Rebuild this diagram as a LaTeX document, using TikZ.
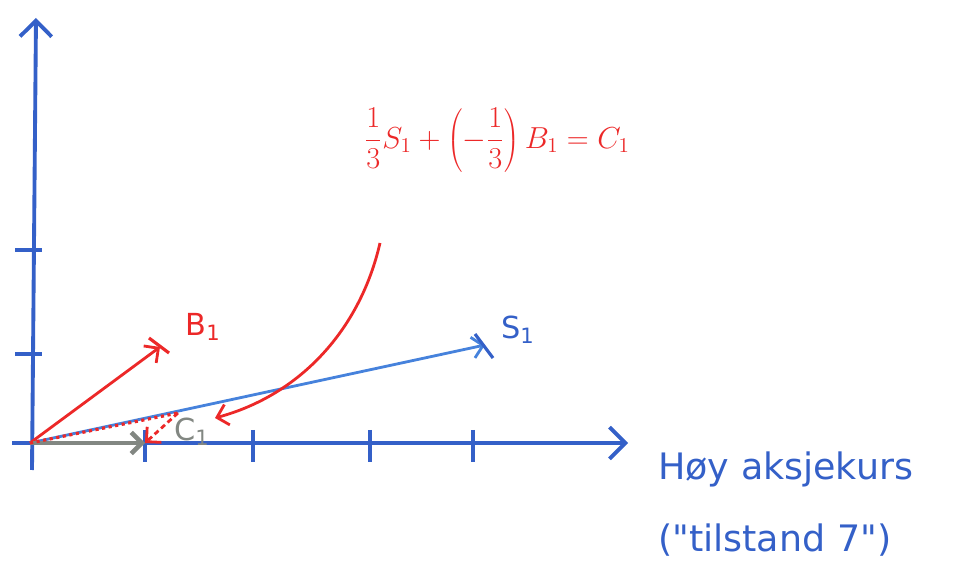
\documentclass[tikz,border=0pt]{standalone}
\usepackage{fontspec}
\setmainfont{DejaVu Sans}
\usetikzlibrary{arrows.meta,calc}
\definecolor{axiscolor}{RGB}{52,96,200}
\definecolor{vecblue}{RGB}{70,130,220}
\definecolor{penred}{RGB}{236,40,40}
\definecolor{pengray}{RGB}{130,135,130}
\tikzset{
  axis line/.style={
    draw=axiscolor,
    line width=2.2pt,
    -{Straight Barb[length=9pt,width=18pt]}
  },
  tick mark/.style={
    draw=axiscolor,
    line width=2.2pt
  },
  vec/.style={
    line width=1.6pt,
    -{Straight Barb[length=6pt,width=12pt]}
  },
  cross/.style={
    line width=1.8pt
  },
  handtext/.style={
    font=\LARGE
  }
}

\begin{document}
\begin{tikzpicture}[x=0.02cm, y=-0.02cm]

  \useasboundingbox (0,0) rectangle (968,574);

  % Axes
  \coordinate (o) at (30,443);
  \coordinate (ytop) at (36,18);
  \coordinate (xend) at (628,443);
  \draw[axis line] (32,470) -- (ytop);
  \draw[axis line] (12,443) -- (xend);

  % Ticks
  \foreach \y in {250,354}
    \draw[tick mark] (15,\y) -- (42,\y);
  \foreach \x in {145,253,370,473}
    \draw[tick mark] (\x,430) -- (\x,462);

  % Vectors
  \coordinate (s1) at (485,345);
  \coordinate (b1) at (160,347);
  \coordinate (c1) at (145,443);
  \coordinate (s13) at (178,413);
  \draw[vec, vecblue] (o) -- (s1);
  \draw[cross, axiscolor] (475,334) -- (493,358);
  \draw[vec, penred] (o) -- (b1);
  \draw[cross, penred] (149,338) -- (169,353);

  % Linear combination
  \draw[vec, pengray, line width=2.6pt] (o) -- (c1);
  \draw[penred, line width=1.8pt, dotted] (o) -- (s13);
  \draw[vec, penred, densely dashed] (s13) -- (c1);
  \draw[vec, penred] (380,243) .. controls (360,330) and (300,395) .. (215,418);

  % Labels
  \node[handtext, penred] (lb1) at (203,327) {B\textsubscript{1}};
  \node[handtext, axiscolor] (ls1) at (518,330) {S\textsubscript{1}};
  \node[handtext, pengray] (lc1) at (192,432) {C\textsubscript{1}};
  \node[handtext, penred] (eq) at (497,140)
    {$\displaystyle \frac{1}{3}S_1+\left(-\frac{1}{3}\right)B_1=C_1$};
  \node[font=\huge, axiscolor, align=left, anchor=north west] (xlabel) at (652,446)
    {Høy aksjekurs\\[16pt](\textquotedbl tilstand 7\textquotedbl)};

\end{tikzpicture}
\end{document}
